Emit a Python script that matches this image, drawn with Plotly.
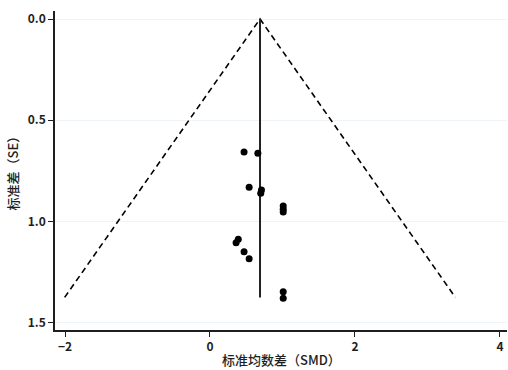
import plotly.graph_objects as go

# Study effect sizes (SMD) and their standard errors
smd = [0.47, 0.66, 0.54, 0.71, 0.70, 1.01, 1.01, 1.01, 0.39, 0.36, 0.47, 0.54, 1.01, 1.01]
se = [0.657, 0.663, 0.831, 0.844, 0.861, 0.923, 0.940, 0.953, 1.088, 1.105, 1.149, 1.184, 1.347, 1.379]

# Pooled estimate and funnel extent
pooled = 0.69
se_max = 1.375
z = 1.96

x_ticks = [-2, 0, 2, 4]
y_ticks = [0.0, 0.5, 1.0, 1.5]
y_tick_text = ["0.0", "0.5", "1.0", "1.5"]

font_cn = "Noto Sans CJK SC, Noto Sans, sans-serif"
ink = "#1e1e1e"

fig = go.Figure()

# Pseudo 95% confidence limits
fig.add_trace(go.Scatter(
    x=[pooled - z * se_max, pooled, pooled + z * se_max],
    y=[se_max, 0, se_max],
    mode="lines",
    line=dict(color="black", width=1.6, dash="6px,4px"),
    hoverinfo="skip",
))

# Pooled effect line
fig.add_trace(go.Scatter(
    x=[pooled, pooled],
    y=[0, se_max],
    mode="lines",
    line=dict(color="#222222", width=2),
    hoverinfo="skip",
))

# Individual studies
fig.add_trace(go.Scatter(
    x=smd, y=se,
    mode="markers",
    marker=dict(color="black", size=7),
))

tick_font = dict(family=font_cn, size=12, color=ink, weight=600)
title_font = dict(family=font_cn, size=13, color=ink, weight=500)

fig.update_layout(
    width=508, height=370,
    margin=dict(l=55, r=1, t=11, b=40),
    paper_bgcolor="white",
    plot_bgcolor="white",
    showlegend=False,
    font=dict(family=font_cn, size=12, color=ink),
    xaxis=dict(
        range=[-2.138, 4.097],
        tickvals=x_ticks,
        ticks="outside", ticklen=5, tickwidth=1.2, tickcolor=ink,
        showline=True, linecolor=ink, linewidth=1.5,
        showgrid=False, zeroline=False,
        tickfont=tick_font,
    ),
    yaxis=dict(
        range=[1.536, -0.0395],
        tickvals=y_ticks, ticktext=y_tick_text,
        ticks="outside", ticklen=5, tickwidth=1.2, tickcolor=ink,
        showline=True, linecolor=ink, linewidth=1.5,
        showgrid=True, gridcolor="#eef4f8", gridwidth=1,
        zeroline=False,
        tickfont=tick_font,
    ),
    annotations=[
        dict(text="标准均数差（SMD）", x=0.5, xref="paper", y=-0.092, yref="paper",
             xanchor="center", yanchor="middle", showarrow=False,
             font=title_font),
        dict(text="标准差（SE）", x=-43 / 452, xref="paper", y=0.5, yref="paper",
             showarrow=False, textangle=-90, xanchor="center", yanchor="middle",
             font=title_font),
    ],
)

fig.write_html("out.html")
